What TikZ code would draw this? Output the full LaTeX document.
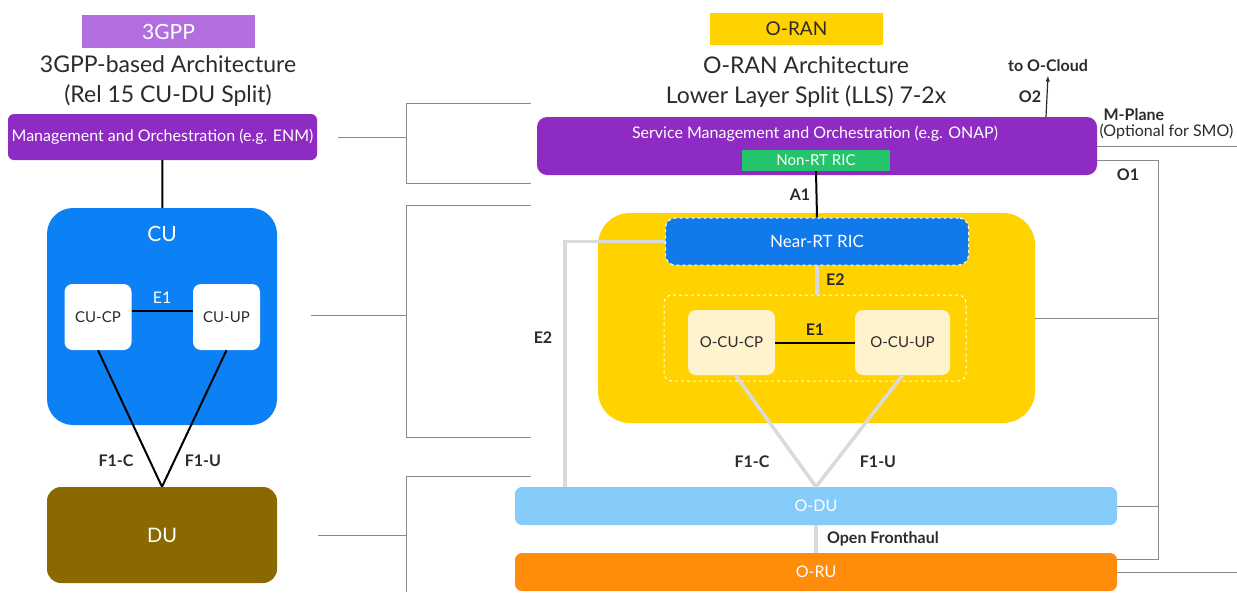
\documentclass[tikz,border=0pt]{standalone}
\usepackage{fontspec}
\setmainfont{Lato}
\usetikzlibrary{arrows.meta}

\definecolor{ink}{HTML}{2B2B2B}
\definecolor{gpplabel}{HTML}{B26EDE}
\definecolor{mgmt}{HTML}{8E2BC2}
\definecolor{cublue}{HTML}{0C80F5}
\definecolor{duolive}{HTML}{8A6A00}
\definecolor{oranyellow}{HTML}{FFD200}
\definecolor{ricgreen}{HTML}{23C46B}
\definecolor{ricblue}{HTML}{1079EC}
\definecolor{cream}{HTML}{FFF3CE}
\definecolor{odublue}{HTML}{85CCFB}
\definecolor{oruorange}{HTML}{FF8C0A}
\definecolor{bracket}{HTML}{8A8A8A}
\definecolor{conn}{HTML}{DADADA}

\begin{document}
\begin{tikzpicture}[x=1pt,y=-1pt,
  every node/.style={font=\fontsize{16}{18}\selectfont},
  box/.style={rounded corners=6pt, inner sep=0pt, text=white},
  tag/.style={font=\fontsize{16}{18}\selectfont\bfseries, text=ink},
  grayline/.style={draw=bracket, line width=1pt},
  lightline/.style={draw=conn, line width=3.5pt},
  darkline/.style={draw=black, line width=2pt}]

\useasboundingbox[fill=white] (0,0) rectangle (1237,592);

% 3GPP side
\node[box, sharp corners, fill=gpplabel, minimum width=173pt, minimum height=33pt, font=\fontsize{21}{23}\selectfont] (gpp) at (168.5,31.5) {3GPP};
\node[align=center, text=ink, font=\fontsize{23}{30}\selectfont] (gpptitle) at (168,81) {3GPP-based Architecture\\(Rel 15 CU-DU Split)};

\node[box, fill=mgmt, minimum width=309pt, minimum height=46pt] (mgmt) at (162.5,137) {Management and Orchestration (e.g. ENM)};

\node[box, fill=cublue, minimum width=230pt, minimum height=217pt, rounded corners=26pt] (cu) at (162,316.5) {};
\node[text=white, font=\fontsize{21}{23}\selectfont] (cutext) at (162,234) {CU};
\node[box, fill=white, text=ink, minimum width=67pt, minimum height=66pt, rounded corners=8pt, font=\fontsize{15}{17}\selectfont] (cucp) at (98,317) {CU-CP};
\node[box, fill=white, text=ink, minimum width=67pt, minimum height=66pt, rounded corners=8pt, font=\fontsize{15}{17}\selectfont] (cuup) at (226.5,317) {CU-UP};

\node[box, fill=duolive, minimum width=230pt, minimum height=96pt, rounded corners=14pt, font=\fontsize{20}{22}\selectfont] (du) at (162,535) {DU};

\draw[darkline] (mgmt) -- (cu);
\draw[darkline] ([yshift=6pt]cucp.east) -- ([yshift=6pt]cuup.west) node[midway, above=3pt, text=white] {E1};
\draw[darkline] (cucp.south) -- (du.north);
\draw[darkline] (cuup.south) -- (du.north);

\node[tag] (f1c) at (116,461) {F1-C};
\node[tag] (f1u) at (203,461) {F1-U};

% brackets
\draw[grayline] (338,137) -- (406,137);
\draw[grayline] (531,103) -- (406,103) -- (406,183) -- (531,183);
\draw[grayline] (311,315) -- (406,315);
\draw[grayline] (531,205) -- (406,205) -- (406,437) -- (531,437);
\draw[grayline] (318,535) -- (406,535);
\draw[grayline] (531,476) -- (406,476) -- (406,592);

% O-RAN side
\node[box, sharp corners, fill=oranyellow, text=ink, minimum width=173pt, minimum height=32pt, font=\fontsize{19}{21}\selectfont] (oran) at (796.5,29) {O-RAN};
\node[align=center, text=ink, font=\fontsize{23}{30}\selectfont] (orantitle) at (806,82) {O-RAN Architecture\\Lower Layer Split (LLS) 7-2x};

\node[box, fill=mgmt, minimum width=560pt, minimum height=58pt, rounded corners=10pt] (smo) at (817,146) {};
\node[text=white] (smotext) at (815,134) {Service Management and Orchestration (e.g. ONAP)};
\node[box, sharp corners, fill=ricgreen, minimum width=148pt, minimum height=21pt, font=\fontsize{15}{17}\selectfont] (nonrt) at (816,160.5) {Non-RT RIC};

\node[box, fill=oranyellow, minimum width=437pt, minimum height=210pt, rounded corners=32pt] (oranbox) at (816.5,318) {};
\node[box, fill=ricblue, draw=white, dashed, line width=1pt, minimum width=303pt, minimum height=47pt, rounded corners=10pt, font=\fontsize{17}{19}\selectfont] (nearrt) at (817,241.5) {Near-RT RIC};
\node[draw=white, dashed, line width=1pt, rounded corners=8pt, minimum width=302pt, minimum height=86pt] (cugroup) at (815,338) {};
\node[box, fill=cream, text=ink, minimum width=87pt, minimum height=65pt, rounded corners=8pt, font=\fontsize{15}{17}\selectfont] (ocucp) at (731.5,342.5) {O-CU-CP};
\node[box, fill=cream, text=ink, minimum width=95pt, minimum height=65pt, rounded corners=8pt, font=\fontsize{15}{17}\selectfont] (ocuup) at (902.5,342.5) {O-CU-UP};

\node[box, fill=odublue, minimum width=602pt, minimum height=38pt, rounded corners=7pt] (odu) at (816,506) {O-DU};
\node[box, fill=oruorange, minimum width=602pt, minimum height=38pt, rounded corners=7pt] (oru) at (816,572) {O-RU};

\draw[darkline] (nonrt.south) -- (nearrt.north) node[midway, left=2pt, tag] {A1};
\draw[lightline] (nearrt.south) -- (nearrt.south |- cugroup.north) node[midway, right=4pt, tag] {E2};
\draw[darkline] (ocucp) -- (ocuup) node[midway, above=3pt, tag] {E1};
\draw[lightline] ([xshift=4pt]ocucp.south) -- (odu.north);
\draw[lightline] (ocuup.south) -- (odu.north);
\node[tag] (f1cr) at (752,462) {F1-C};
\node[tag] (f1ur) at (878,462) {F1-U};

\coordinate (e2foot) at (565,487);
\draw[lightline] (nearrt.west) -| (e2foot);
\node[tag] (e2long) at (543,338) {E2};

\draw[lightline] (odu.south) -- (oru.north) node[midway, right=6pt, tag] {Open Fronthaul};

% O2, M-Plane, O1
\coordinate (o2foot) at (1046,117);
\node[tag] (ocloud) at (1048,66) {to O-Cloud};
\draw[draw=ink, line width=1.2pt, -{Latex[length=6pt]}] (o2foot) -- (ocloud.south) node[midway, left=2pt, tag] {O2};

\node[tag, anchor=west] (mplane) at (1100,115) {M-Plane};
\node[anchor=west, text=ink] (mplanenote) at (1096,132) {(Optional for SMO)};
\coordinate (mplaneout) at (1237,146);
\draw[grayline] (smo.east) -- (mplaneout);
\draw[grayline] (oru.east) -- (oru.east -| mplaneout);

\coordinate (o1a) at (1158,160);
\coordinate (o1b) at (1158,559);
\draw[grayline] (smo.east |- o1a) -- (o1a) -- (o1b) -- (oru.east |- o1b);
\draw[grayline] (oranbox.east) -- (oranbox.east -| o1a);
\draw[grayline] (odu.east) -- (odu.east -| o1a);
\node[tag] (o1) at (1128,175) {O1};

\end{tikzpicture}
\end{document}
